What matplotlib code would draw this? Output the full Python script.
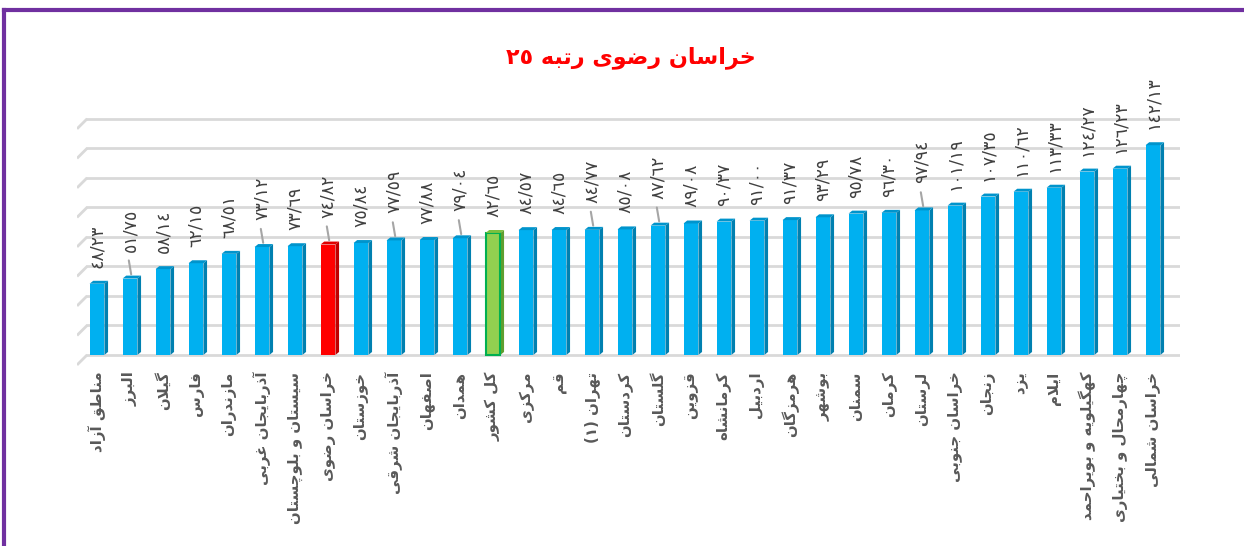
import re
import matplotlib
matplotlib.use('Agg')
import matplotlib.pyplot as plt
from matplotlib.patches import Polygon
from matplotlib.lines import Line2D

# provinces, sorted by value (ascending)
provinces = [
    'مناطق آزاد', 'البرز', 'گیلان', 'فارس', 'مازندران', 'آذربایجان غربی',
    'سیستان و بلوچستان', 'خراسان رضوی', 'خوزستان', 'آذربایجان شرقی', 'اصفهان',
    'همدان', 'کل کشور', 'مرکزی', 'قم', 'تهران (1)', 'کردستان', 'گلستان',
    'قزوین', 'کرمانشاه', 'اردبیل', 'هرمزگان', 'بوشهر', 'سمنان', 'کرمان',
    'لرستان', 'خراسان جنوبی', 'زنجان', 'یزد', 'ایلام',
    'کهگیلویه و بویراحمد', 'چهارمحال و بختیاری', 'خراسان شمالی',
]
values = [
    48.23, 51.75, 58.14, 62.15, 68.51, 73.12,
    73.69, 74.82, 75.84, 77.59, 77.88,
    79.04, 82.65, 84.57, 84.65, 84.77, 85.08, 87.62,
    89.08, 90.37, 91.00, 91.37, 93.29, 95.78, 96.30,
    97.94, 101.19, 107.35, 110.62, 113.33,
    124.27, 126.23, 142.13,
]
title = 'خراسان رضوی رتبه 25'
highlight = 'خراسان رضوی'
national = 'کل کشور'

# --- minimal arabic/persian shaping (matplotlib draws glyphs one by one) ---
FORMS = {
    'ا': (0xFE8D, 0xFE8E, None, None), 'آ': (0xFE81, 0xFE82, None, None),
    'ب': (0xFE8F, 0xFE90, 0xFE91, 0xFE92), 'پ': (0xFB56, 0xFB57, 0xFB58, 0xFB59),
    'ت': (0xFE95, 0xFE96, 0xFE97, 0xFE98), 'ث': (0xFE99, 0xFE9A, 0xFE9B, 0xFE9C),
    'ج': (0xFE9D, 0xFE9E, 0xFE9F, 0xFEA0), 'چ': (0xFB7A, 0xFB7B, 0xFB7C, 0xFB7D),
    'ح': (0xFEA1, 0xFEA2, 0xFEA3, 0xFEA4), 'خ': (0xFEA5, 0xFEA6, 0xFEA7, 0xFEA8),
    'د': (0xFEA9, 0xFEAA, None, None), 'ذ': (0xFEAB, 0xFEAC, None, None),
    'ر': (0xFEAD, 0xFEAE, None, None), 'ز': (0xFEAF, 0xFEB0, None, None),
    'ژ': (0xFB8A, 0xFB8B, None, None),
    'س': (0xFEB1, 0xFEB2, 0xFEB3, 0xFEB4), 'ش': (0xFEB5, 0xFEB6, 0xFEB7, 0xFEB8),
    'ص': (0xFEB9, 0xFEBA, 0xFEBB, 0xFEBC), 'ض': (0xFEBD, 0xFEBE, 0xFEBF, 0xFEC0),
    'ط': (0xFEC1, 0xFEC2, 0xFEC3, 0xFEC4), 'ظ': (0xFEC5, 0xFEC6, 0xFEC7, 0xFEC8),
    'ع': (0xFEC9, 0xFECA, 0xFECB, 0xFECC), 'غ': (0xFECD, 0xFECE, 0xFECF, 0xFED0),
    'ف': (0xFED1, 0xFED2, 0xFED3, 0xFED4), 'ق': (0xFED5, 0xFED6, 0xFED7, 0xFED8),
    'ک': (0xFB8E, 0xFB8F, 0xFB90, 0xFB91), 'گ': (0xFB92, 0xFB93, 0xFB94, 0xFB95),
    'ل': (0xFEDD, 0xFEDE, 0xFEDF, 0xFEE0), 'م': (0xFEE1, 0xFEE2, 0xFEE3, 0xFEE4),
    'ن': (0xFEE5, 0xFEE6, 0xFEE7, 0xFEE8), 'و': (0xFEED, 0xFEEE, None, None),
    'ه': (0xFEE9, 0xFEEA, 0xFEEB, 0xFEEC), 'ی': (0xFBFC, 0xFBFD, 0xFBFE, 0xFBFF),
}
LAM_ALEF = {'ا': (0xFEFB, 0xFEFC), 'آ': (0xFEF5, 0xFEF6)}
DIGITS = str.maketrans('0123456789', '٠١٢٣٤٥٦٧٨٩')
MIRROR = str.maketrans('()', ')(')


def shape(text):
    out = []
    i = 0
    n = len(text)
    while i < n:
        c = text[i]
        if c not in FORMS:
            out.append(c)
            i += 1
            continue
        prev = text[i - 1] if i > 0 else ''
        joins_prev = prev in FORMS and FORMS[prev][2] is not None
        if c == 'ل' and i + 1 < n and text[i + 1] in LAM_ALEF:
            iso, fin = LAM_ALEF[text[i + 1]]
            out.append(chr(fin if joins_prev else iso))
            i += 2
            continue
        nxt = text[i + 1] if i + 1 < n else ''
        joins_next = FORMS[c][2] is not None and nxt in FORMS
        iso, fin, ini, med = FORMS[c]
        if joins_prev and joins_next:
            code = med
        elif joins_prev:
            code = fin
        elif joins_next:
            code = ini
        else:
            code = iso
        out.append(chr(code))
        i += 1
    return ''.join(out)


def rtl(text):
    # shape, then lay out right-to-left while keeping digit runs in order
    runs = re.findall(r'[0-9\u0660-\u0669/]+|[^0-9\u0660-\u0669/]+', shape(text))
    vis = []
    for r in reversed(runs):
        if re.fullmatch(r'[0-9\u0660-\u0669/]+', r):
            vis.append(r.translate(DIGITS))
        else:
            vis.append(r[::-1].translate(MIRROR))
    return ''.join(vis)


def fa_number(v):
    return '{:.2f}'.format(v).replace('.', '/').translate(DIGITS)


plt.rcParams['font.family'] = ['DejaVu Sans']

fig = plt.figure(figsize=(12.44, 5.46), dpi=100)
ax = fig.add_axes([0.0619, 0.3297, 0.8867, 0.4689])

n = len(values)
x = list(range(n))
ax.set_xlim(-0.606, n - 1 + 0.82)
ax.set_ylim(-7.5, 166)

# back wall gridlines with a short perspective slant on the left
for g in range(0, 161, 20):
    ax.plot([-0.606, -0.3], [g - 6.8, g], color='#d9d9d9', lw=2, zorder=1,
            solid_capstyle='butt')
    ax.plot([-0.3, n - 1 + 0.82], [g, g], color='#d9d9d9', lw=2, zorder=1)

bw = 0.45
dx, dy = 0.11, 2.0
for i, v in enumerate(values):
    if provinces[i] == highlight:
        front, side, top, edge = '#ff0000', '#c00000', '#e00000', '#ff0000'
    elif provinces[i] == national:
        front, side, top, edge = '#92d050', '#5f9e2f', '#7cc03e', '#00b050'
    else:
        front, side, top, edge = '#00b0f0', '#0080b0', '#0094cc', '#00b0f0'
    ax.bar(i, v, width=bw, color=front, edgecolor=edge,
           linewidth=1.5 if edge != front else 0, zorder=3)
    x0, x1 = i - bw / 2, i + bw / 2
    ax.add_patch(Polygon([(x1, 0), (x1 + dx, dy), (x1 + dx, v + dy), (x1, v)],
                         closed=True, facecolor=side, edgecolor='none', zorder=2))
    ax.add_patch(Polygon([(x0, v), (x0 + dx, v + dy), (x1 + dx, v + dy), (x1, v)],
                         closed=True, facecolor=top, edgecolor='none', zorder=3))

# value labels, some pushed up with a leader line
leaders = {1, 5, 7, 9, 11, 15, 17, 25}
for i, v in enumerate(values):
    off = 27 if i in leaders else 16
    ax.annotate(fa_number(v), (i, v), xytext=(0, off), textcoords='offset pixels',
                rotation=90, ha='center', va='bottom', fontsize=12.5,
                color='#404040', annotation_clip=False)
    if i in leaders:
        ax.annotate('', (i + 0.05, v + 1), xytext=(i - 0.05, v + 12 / 1.475 + 6),
                    arrowprops=dict(arrowstyle='-', color='#a6a6a6', lw=1.5),
                    annotation_clip=False)

ax.set_xticks(x)
ax.set_xticklabels([rtl(p) for p in provinces], rotation=90, ha='center',
                   va='top', fontsize=10.8, fontweight='bold', color='#595959')
ax.tick_params(axis='x', length=0, pad=4)
ax.set_yticks([])
for s in ax.spines.values():
    s.set_visible(False)

fig.text(0.507, 0.895, rtl(title), ha='center', va='center', fontsize=16,
         fontweight='bold', color='#ff0000')

# purple frame
fig.add_artist(Line2D([3.5 / 1244, 1], [1 - 9.5 / 546, 1 - 9.5 / 546],
                      color='#7030a0', lw=3))
fig.add_artist(Line2D([3.5 / 1244, 3.5 / 1244], [0, 1 - 9.5 / 546],
                      color='#7030a0', lw=3))

fig.savefig('out.png', dpi=100)
